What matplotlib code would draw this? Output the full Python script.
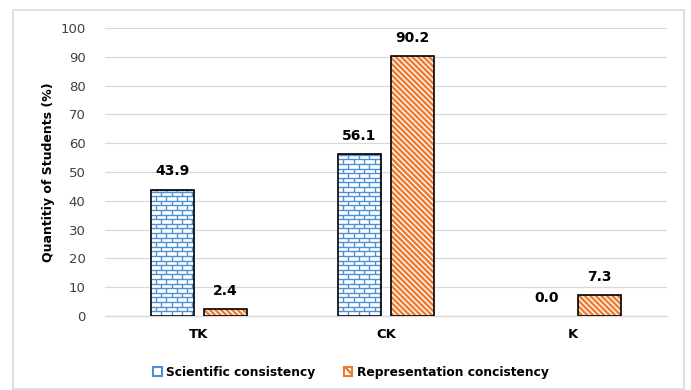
import numpy as np
import matplotlib.pyplot as plt
from matplotlib.collections import LineCollection
from matplotlib.patches import Rectangle, Patch

categories = ["TK", "CK", "K"]
scientific = [43.9, 56.1, 0.0]
representation = [2.4, 90.2, 7.3]
series_names = ["Scientific consistency", "Representation concistency"]

blue = "#4f8fd6"
orange = "#ed7d31"
grid_col = "#d9d9d9"

plt.rcParams['hatch.linewidth'] = 1.8

fig = plt.figure(figsize=(6.91, 3.9), dpi=100)
# light frame around the whole chart
fig.patches.append(Rectangle((13 / 691, 0.002), 671 / 691, 1 - 10 / 390 - 0.002,
                             transform=fig.transFigure, fill=False,
                             edgecolor=grid_col, lw=1.2))

ax = fig.add_axes([0.152, 0.190, 0.813, 0.738])

x = np.arange(len(categories))
w = 0.23
off = 0.142


def brick_segments(x0, x1, top, row_h=1.6, brick_w=0.056):
    segs = []
    y = 0.0
    row = 0
    while y < top - 1e-9:
        y_next = min(y + row_h, top)
        segs.append([(x0, y_next), (x1, y_next)])
        start = x0 + (brick_w / 2 if row % 2 else brick_w)
        for xv in np.arange(start, x1 - 1e-6, brick_w):
            segs.append([(xv, y), (xv, y_next)])
        y += row_h
        row += 1
    return segs


sci_x = x - off
rep_x = x + off

# scientific consistency: white bars with a brick pattern
for xi, h in zip(sci_x, scientific):
    if h <= 0:
        continue
    ax.bar(xi, h, w, color="white", zorder=2)
    lc = LineCollection(brick_segments(xi - w / 2, xi + w / 2, h),
                        colors=blue, linewidths=1.0, zorder=3)
    ax.add_collection(lc)
    ax.bar(xi, h, w, fill=False, edgecolor="black", lw=1.2, zorder=4)

# representation consistency: orange diagonal hatch
for xi, h in zip(rep_x, representation):
    if h <= 0:
        continue
    ax.bar(xi, h, w, color="white", edgecolor=orange,
           hatch="\\\\\\\\\\\\", lw=0, zorder=2)
    ax.bar(xi, h, w, fill=False, edgecolor="black", lw=1.2, zorder=4)

for xs, vals in [(sci_x, scientific), (rep_x, representation)]:
    for xi, v in zip(xs, vals):
        ax.annotate(f"{v:.1f}", (xi, v), xytext=(0, 8), textcoords="offset points",
                    ha="center", va="bottom", fontsize=10, fontweight="bold")

ax.set_xlim(-0.5, 2.5)
ax.set_ylim(0, 100)
ax.set_yticks(np.arange(0, 101, 10))
ax.set_xticks(x)
ax.set_xticklabels(categories, fontsize=9.5, fontweight="bold")
ax.tick_params(axis="y", length=0, pad=14, labelsize=9.5, labelcolor="#404040")
ax.tick_params(axis="x", length=0, pad=9)
ax.grid(axis="y", color=grid_col, lw=0.9)
ax.set_axisbelow(True)
for s in ["top", "right", "left"]:
    ax.spines[s].set_visible(False)
ax.spines["bottom"].set_color(grid_col)
ax.spines["bottom"].set_linewidth(1.0)

ax.set_ylabel("Quantitiy of Students (%)", fontsize=9, fontweight="bold", labelpad=4)

handles = [Patch(facecolor="white", edgecolor=blue, lw=1.5),
           Patch(facecolor="white", edgecolor=orange, hatch="\\\\\\", lw=1.5)]
leg = fig.legend(handles, series_names, loc="center", bbox_to_anchor=(0.508, 0.046),
                 ncol=2, frameon=False, handlelength=0.7, handleheight=0.7,
                 handletextpad=0.4, columnspacing=2.3,
                 prop={"weight": "bold", "size": 8.8})

fig.savefig("out.png", dpi=100)
